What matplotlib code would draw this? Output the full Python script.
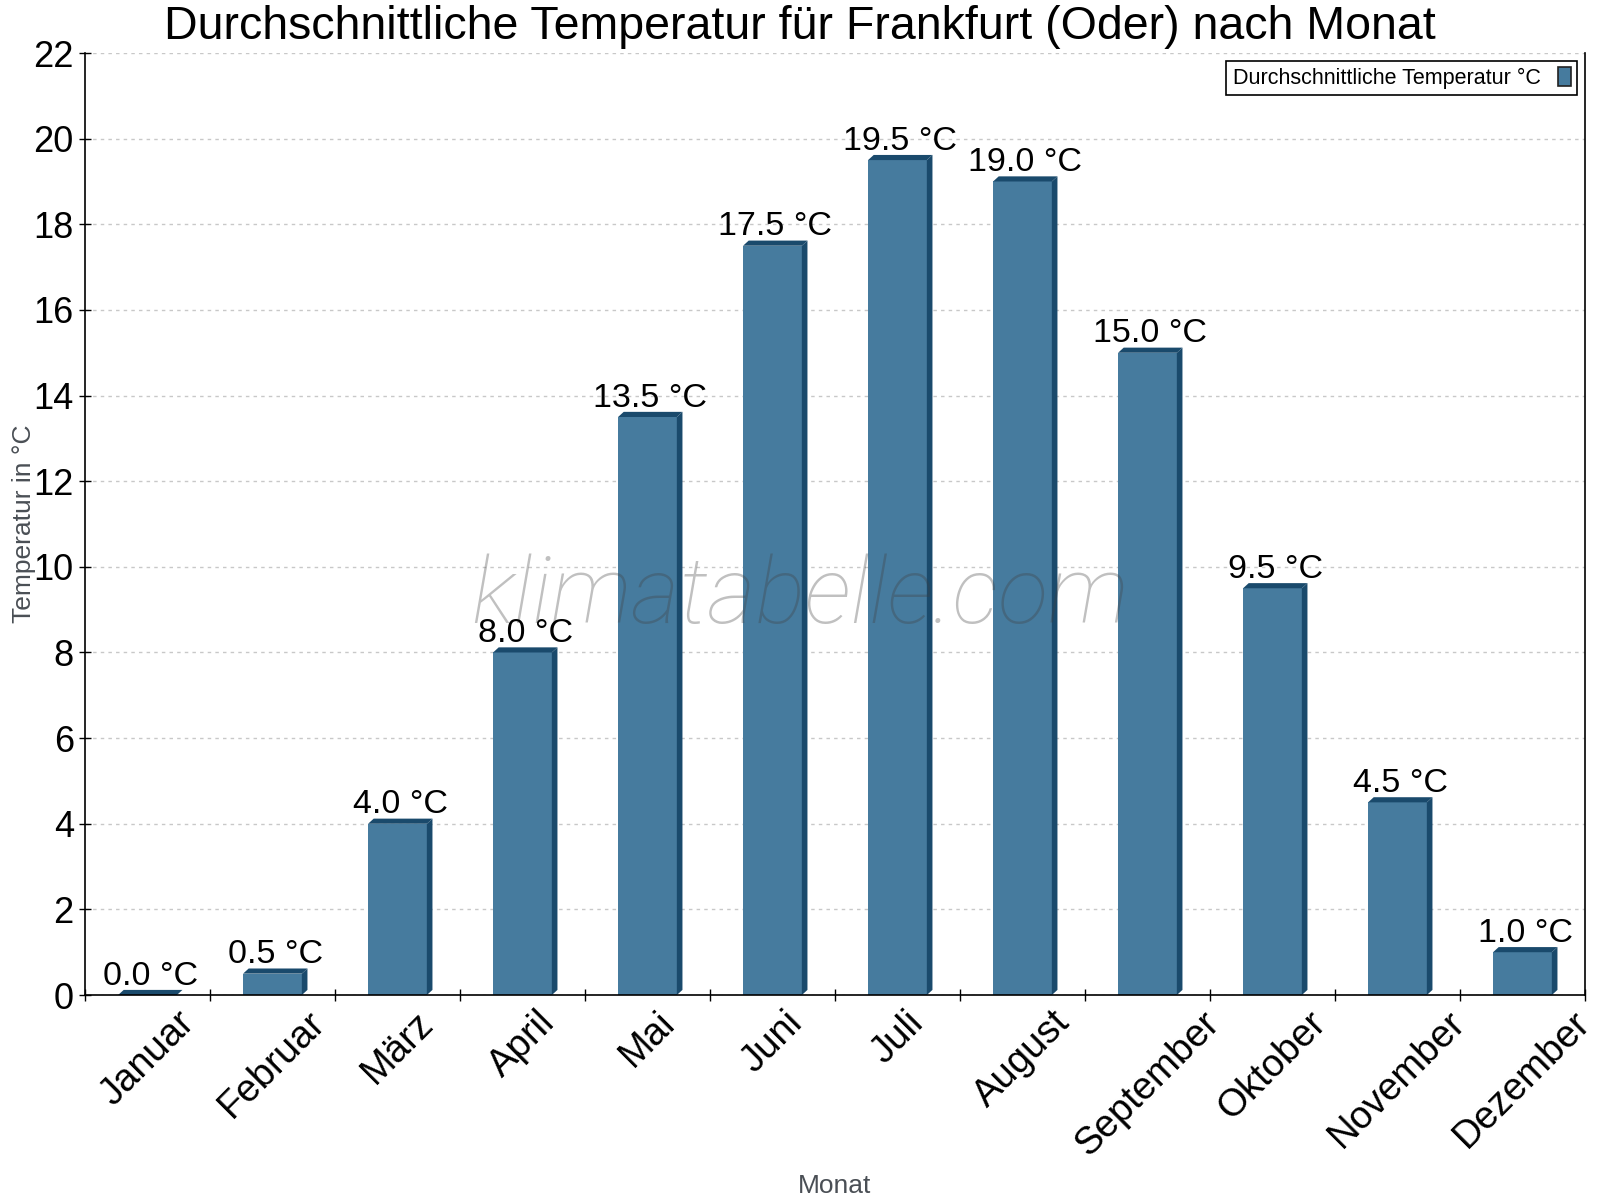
import matplotlib
matplotlib.use("Agg")
import matplotlib.pyplot as plt
from matplotlib.patches import Polygon, Rectangle

months = ["Januar", "Februar", "März", "April", "Mai", "Juni",
          "Juli", "August", "September", "Oktober", "November", "Dezember"]
temps = [0.0, 0.5, 4.0, 8.0, 13.5, 17.5, 19.5, 19.0, 15.0, 9.5, 4.5, 1.0]
y_ticks = list(range(0, 23, 2))

front = "#467b9e"
dark = "#1a4a6c"

plt.rcParams['font.family'] = ['Liberation Sans', 'DejaVu Sans']


def draw_bars(ax, values, width=0.47, dx=0.045, dy=0.12):
    for i, v in enumerate(values):
        left = i - width / 2
        right = i + width / 2
        ax.bar(i, v, width=width, color=front, zorder=2)
        # top face and right side for the 3d look
        top = Polygon([(left, v), (left + dx, v + dy), (right + dx, v + dy), (right, v)],
                      closed=True, facecolor=dark, edgecolor='none', zorder=2)
        side = Polygon([(right, 0), (right + dx, dy), (right + dx, v + dy), (right, v)],
                       closed=True, facecolor=dark, edgecolor='none', zorder=2)
        ax.add_patch(top)
        ax.add_patch(side)
        ax.annotate(f"{v:.1f} °C", xy=(i + dx / 2, v), xytext=(0, 7.5),
                    textcoords='offset points', ha='center', va='baseline',
                    fontsize=24.5, color='black', zorder=5)


def main():
    fig = plt.figure(figsize=(16, 12), dpi=100)
    ax = fig.add_axes([0.0531, 0.1708, 0.9375, 0.785])

    draw_bars(ax, temps)

    ax.set_xlim(-0.5, len(months) - 0.5)
    ax.set_ylim(0, 22)
    ax.set_yticks(y_ticks)
    ax.set_xticks(range(len(months)))
    ax.set_xticklabels(months, rotation=45, ha='center', fontsize=27.5)
    ax.set_xticks([i - 0.5 for i in range(len(months) + 1)], minor=True)
    ax.tick_params(axis='x', which='major', length=0, pad=7)
    ax.tick_params(axis='x', which='minor', direction='inout', length=9, width=1)
    ax.tick_params(axis='y', direction='inout', length=8, width=1, labelsize=26, pad=4)

    ax.grid(axis='y', color='#c8c8c8', linestyle=(0, (2.5, 3)), linewidth=1, zorder=0)
    ax.set_axisbelow(True)
    ax.spines['top'].set_visible(False)
    for s in ['left', 'bottom', 'right']:
        ax.spines[s].set_color('black')
        ax.spines[s].set_linewidth(1.2)

    ax.set_ylabel("Temperatur in °C", fontsize=19, color='#4a4f55', labelpad=-2)
    ax.set_xlabel("Monat", fontsize=19, color='#4a4f55', labelpad=8)

    fig.text(0.5, 1 - 39 / 1200, "Durchschnittliche Temperatur für Frankfurt (Oder) nach Monat",
             ha='center', va='baseline', fontsize=33.5, color='black')

    # watermark
    ax.text(0.5, 0.481, "klimatabelle.com", transform=fig.transFigure,
            ha='center', va='baseline', fontsize=67, family='Roboto',
            style='italic', weight='light', color='#404040', alpha=0.33, zorder=3)

    handle = Rectangle((0, 0), 1, 1, facecolor=front, edgecolor='#222222', linewidth=1.2)
    leg = ax.legend([handle], ["Durchschnittliche Temperatur °C"], loc='upper right',
                    markerfirst=False, fancybox=False, framealpha=1, edgecolor='black',
                    fontsize=15.5, handlelength=0.6, handleheight=1.0, handletextpad=0.8,
                    borderaxespad=0.35, borderpad=0.3)
    leg.get_frame().set_linewidth(1.2)

    fig.savefig("out.png", dpi=100)


if __name__ == "__main__":
    main()
